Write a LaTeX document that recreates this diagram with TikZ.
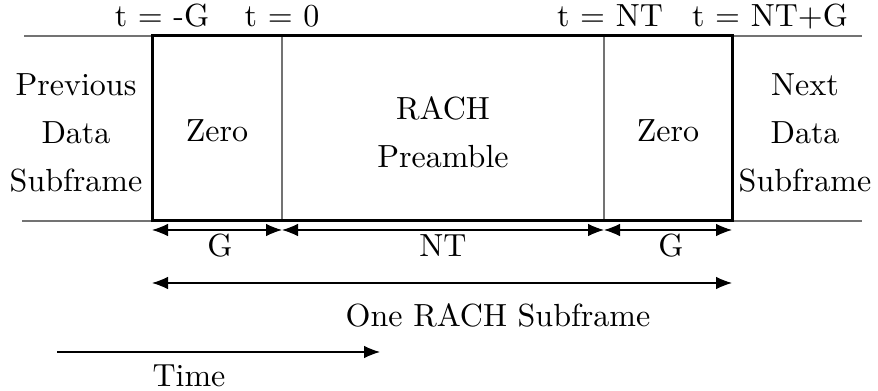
\documentclass[tikz,border=0pt]{standalone}
\usetikzlibrary{arrows.meta}
\begin{document}
\begin{tikzpicture}[x=0.3pt,y=-0.3pt,
  every node/.style={font=\fontsize{9.6}{14.5}\selectfont, inner sep=0pt},
  guide/.style={draw=black!55, line width=0.45pt},
  frame/.style={draw=black, line width=0.9pt},
  dim/.style={draw=black, line width=0.35pt, {Latex[length=4.8pt,width=3.8pt]}-{Latex[length=4.8pt,width=3.8pt]}},
  timearrow/.style={draw=black, line width=0.35pt, -{Latex[length=4.8pt,width=3.8pt]}},
  lab/.style={align=center}]
\useasboundingbox (0,0) rectangle (878,391);
% key points
\coordinate (tl) at (152,36);
\coordinate (br) at (732,221);
\coordinate (a0) at (282,36); \coordinate (b0) at (282,221);
\coordinate (a1) at (604,36); \coordinate (b1) at (604,221);
\coordinate (lt) at (24,36); \coordinate (rt) at (862,36);
\coordinate (lb) at (22,221); \coordinate (rb) at (862,221);
% guide lines
\draw[guide] (lt) -- (rt);
\draw[guide] (lb) -- (rb);
\draw[guide] (a0) -- (b0);
\draw[guide] (a1) -- (b1);
\draw[frame] (tl) rectangle (br);
% texts
\node[lab] (prev) at (76,133) {Previous\\Data\\Subframe};
\node[lab] (zero1) at (217,131) {Zero};
\node[lab] (rach) at (443,132) {RACH\\Preamble};
\node[lab] (zero2) at (668,131) {Zero};
\node[lab] (next) at (805,133) {Next\\Data\\Subframe};
\node[anchor=base] (tmg) at (162,27) {t = -G};
\node[anchor=base] (t0) at (282,27) {t = 0};
\node[anchor=base] (tnt) at (610,27) {t = NT};
\node[anchor=base] (tntg) at (770,27) {t = NT+G};
% dimension arrows
\coordinate (d0) at (152,230); \coordinate (d1) at (282,230);
\coordinate (d2) at (604,230); \coordinate (d3) at (732,230);
\draw[dim] (d0) -- (d1);
\draw[dim] (d1) -- (d2);
\draw[dim] (d2) -- (d3);
\node[anchor=base] (g1) at (220,257) {G};
\node[anchor=base] (nt) at (443,257) {NT};
\node[anchor=base] (g2) at (671,257) {G};
\coordinate (s0) at (152,283); \coordinate (s1) at (732,283);
\draw[dim] (s0) -- (s1);
\node[anchor=base] (one) at (498,327) {One RACH Subframe};
\coordinate (ta) at (57,352); \coordinate (tb) at (380,352);
\draw[timearrow] (ta) -- (tb);
\node[anchor=base] (time) at (189,387) {Time};
\end{tikzpicture}
\end{document}
